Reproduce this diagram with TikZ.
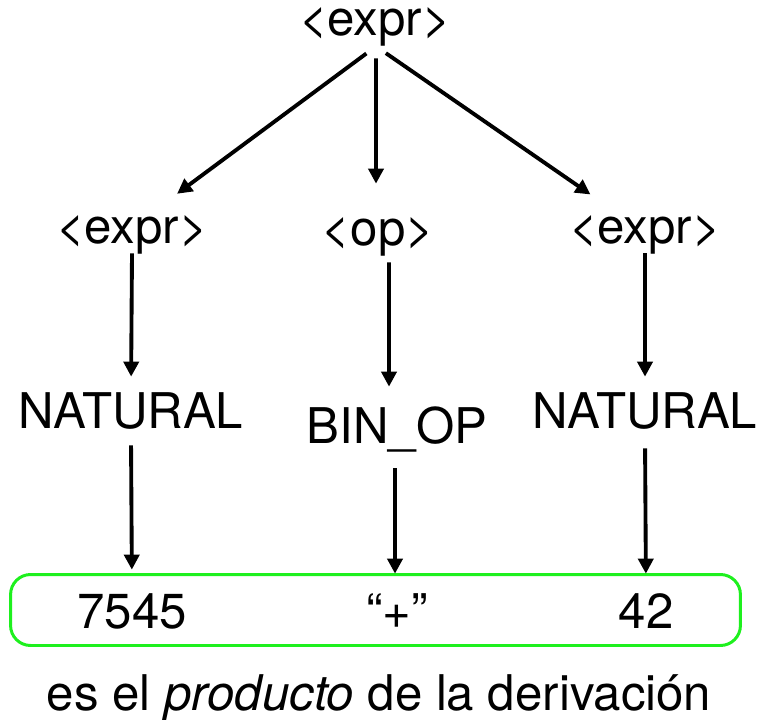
\documentclass[tikz,border=0pt]{standalone}
\usepackage{fontspec}
\setmainfont{TeX Gyre Heros}
\usetikzlibrary{arrows.meta}
\definecolor{boxgreen}{RGB}{30,240,30}

\begin{document}
\begin{tikzpicture}[x=0.02cm, y=-0.02cm,
  sym/.style={inner sep=0, anchor=base, text height=0.68cm, text depth=0.2cm, font=\fontsize{28}{34}\selectfont},
  arrow/.style={-{Triangle[length=0.3cm, width=0.3cm]}, line width=2.2pt}]
\useasboundingbox (0, 0) rectangle (759, 719);

% tree
\node [sym] (root) at (375, 36) {<expr>};
\node [sym] (lexpr) at (132, 243) {<expr>};
\node [sym] (op) at (378, 245) {<op>};
\node [sym] (rexpr) at (645, 243) {<expr>};
\node [sym] (lnat) at (131, 428) {NATURAL};
\node [sym] (binop) at (397, 443) {BIN\_OP};
\node [sym] (rnat) at (645, 428) {NATURAL};

% product
\node [draw=boxgreen, line width=1.7pt, rounded corners=0.4cm, minimum width=14.6cm, minimum height=1.42cm] (yield) at (375.5, 610) {};
\node [sym] (lval) at (132, 628) {7545};
\node [sym] (opval) at (397, 628) {``+''};
\node [sym] (rval) at (646, 628) {42};
\node [sym] (caption) at (379, 710) {es el \textit{producto} de la derivación};

\draw [arrow, shorten <=0.24cm, shorten >=0.5cm] ([xshift=0.02cm]root.south) -- ([xshift=0.5cm]lexpr.north);
\draw [arrow, shorten <=0.24cm, shorten >=0.54cm] ([xshift=0.02cm]root.south) -- ([xshift=-0.04cm]op.north);
\draw [arrow, shorten <=0.24cm, shorten >=0.5cm] ([xshift=0.02cm]root.south) -- ([xshift=-0.68cm]rexpr.north);

\draw [arrow, shorten >=0.34cm] (lexpr.south) -- (lnat.north);
\draw [arrow, shorten <=0.14cm, shorten >=0.44cm] ([xshift=0.22cm]op.south) -- ([xshift=-0.16cm]binop.north);
\draw [arrow, shorten >=0.34cm] (rexpr.south) -- (rnat.north);

\draw [arrow, shorten <=0.14cm, shorten >=0.48cm] (lnat.south) -- (lval.north);
\draw [arrow, shorten <=0.3cm, shorten >=0.4cm] ([xshift=-0.04cm]binop.south) -- ([xshift=-0.04cm]opval.north);
\draw [arrow, shorten <=0.2cm, shorten >=0.4cm] (rnat.south) -- (rval.north);
\end{tikzpicture}
\end{document}
